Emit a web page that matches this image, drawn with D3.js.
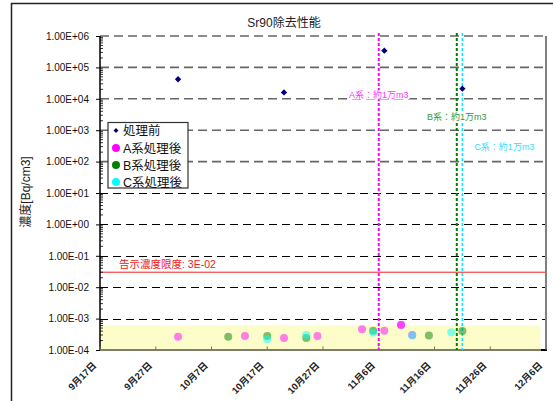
<!DOCTYPE html>
<html><head><meta charset="utf-8">
<script src="https://cdn.jsdelivr.net/npm/d3@7"></script>
<style>body{margin:0;background:#fff}svg{display:block}text{font-family:"Liberation Sans","Noto Sans CJK JP",sans-serif}</style>
</head><body>
<script>
// ---------- data ----------
const title = "Sr90除去性能";
const yTitle = "濃度[Bq/cm3]";
const xDomain = ["2011-09-17", "2011-12-06"];
const yDomain = [1e-4, 1e6];
const seriesNames = ["処理前", "A系処理後", "B系処理後", "C系処理後"];
const seriesColors = ["#000080", "#ff00ff", "#008000", "#00ffff"];

const beforeDates  = ["2011-10-01", "2011-10-20", "2011-11-07", "2011-11-21"];
const beforeValues = [4.2e4, 1.6e4, 3.4e5, 2.1e4];

const aDates  = ["2011-10-01", "2011-10-13", "2011-10-20", "2011-10-26", "2011-11-03", "2011-11-07", "2011-11-10", "2011-11-10", "2011-11-12"];
const aValues = [2.65e-4, 2.8e-4, 2.4e-4, 2.8e-4, 4.6e-4, 4.1e-4, 6.4e-4, 6.3e-4, 3.0e-4];

const bDates  = ["2011-10-10", "2011-10-17", "2011-10-24", "2011-11-05", "2011-11-15", "2011-11-21"];
const bValues = [2.65e-4, 2.8e-4, 2.4e-4, 4.1e-4, 2.9e-4, 4.0e-4];

const cDates  = ["2011-10-17", "2011-10-24", "2011-11-05", "2011-11-12", "2011-11-19"];
const cValues = [2.2e-4, 3.0e-4, 3.6e-4, 2.9e-4, 3.7e-4];

const limitValue = 3e-2;
const limitLabel = "告示濃度限度: 3E-02";
const bandValues = [1e-4, 6e-4];
const bandDates = ["2011-09-17", "2011-12-05"];

const vlineDates  = ["2011-11-06", "2011-11-20", "2011-11-21"];
const vlineLabels = ["A系：約1万m3", "B系：約1万m3", "C系：約1万m3"];
const vlineColors = ["#ff00ff", "#008000", "#00e8ff"];
const vlineTextColors = ["#ff33ff", "#339933", "#33ddff"];

const xTickStep = 10; // days

// ---------- drawing ----------
const W = 553, H = 401;
const parse = d3.timeParse("%Y-%m-%d");
const svg = d3.select("body").append("svg").attr("width", W).attr("height", H);

const x = d3.scaleTime().domain(xDomain.map(parse)).range([100, 546]);
const y = d3.scaleLog().domain(yDomain).range([350, 36]);

// outer frame
svg.append("rect").attr("x", 11.5).attr("y", 3.5).attr("width", 560).attr("height", 420)
  .attr("fill", "none").attr("stroke", "#222").attr("stroke-width", 1.5);

// title
svg.append("text").attr("x", 284).attr("y", 27).attr("text-anchor", "middle")
  .attr("font-size", 12).attr("fill", "#222").text(title);

// yellow band
svg.append("rect")
  .attr("x", x(parse(bandDates[0]))).attr("y", y(bandValues[1]))
  .attr("width", x(parse(bandDates[1])) - x(parse(bandDates[0])))
  .attr("height", y(bandValues[0]) - y(bandValues[1]))
  .attr("fill", "#fdfdc9");

// gridlines
const decades = d3.range(-3, 7).map(e => Math.pow(10, e));
svg.append("g").selectAll("line").data(decades).join("line")
  .attr("x1", 100).attr("x2", 546)
  .attr("y1", d => d >= 100 ? y(d) : Math.round(y(d)) + 0.5)
  .attr("y2", d => d >= 100 ? y(d) : Math.round(y(d)) + 0.5)
  .attr("stroke", d => d >= 100 ? "#666" : "#000")
  .attr("stroke-width", d => d >= 100 ? 1.6 : 1)
  .attr("stroke-dasharray", d => d >= 100 ? "9,5" : "8,5");

// limit line
svg.append("line").attr("x1", 100).attr("x2", 546).attr("y1", y(limitValue)).attr("y2", y(limitValue))
  .attr("stroke", "#ee2020").attr("stroke-width", 1);
svg.append("text").attr("x", 119).attr("y", y(limitValue) - 4).attr("font-size", 10.5)
  .attr("fill", "#ee2020").attr("font-family", "Noto Sans CJK JP").text(limitLabel);

// plot border right
svg.append("line").attr("x1", 546).attr("x2", 546).attr("y1", 36).attr("y2", 351)
  .attr("stroke", "#808080").attr("stroke-width", 2);

// y axis
const fmtE = v => {
  const e = Math.round(Math.log10(v));
  return "1.00E" + (e < 0 ? "-" : "+") + String(Math.abs(e)).padStart(2, "0");
};
const yAxis = d3.axisLeft(y).tickValues(d3.range(-4, 7).map(e => Math.pow(10, e)))
  .tickFormat(fmtE).tickSize(4).tickPadding(7);
const ga = svg.append("g").attr("transform", "translate(100,0)").call(yAxis);
ga.select(".domain").attr("stroke", "#000").attr("stroke-width", 1.5).attr("d", "M0,36V350");
ga.selectAll("text").attr("font-size", 10).attr("fill", "#111");
// minor ticks
const minors = [];
for (let e = -4; e < 6; e++) for (let m = 2; m <= 9; m++) minors.push(m * Math.pow(10, e));
svg.append("g").selectAll("line").data(minors).join("line")
  .attr("x1", 100).attr("x2", 103)
  .attr("y1", d => y(d)).attr("y2", d => y(d))
  .attr("stroke", "#000").attr("stroke-width", 0.8);

// y title
svg.append("text").attr("transform", "translate(30,192) rotate(-90)")
  .attr("text-anchor", "middle").attr("font-size", 12).attr("fill", "#222")
  .attr("font-family", "Noto Sans CJK JP").text(yTitle);

// x axis
const xTicks = d3.range(0, 81, xTickStep).map(d => d3.timeDay.offset(parse(xDomain[0]), d));
svg.append("line").attr("x1", 100).attr("x2", 546).attr("y1", 350).attr("y2", 350)
  .attr("stroke", "#55553a").attr("stroke-width", 1.5);
svg.append("line").attr("x1", 541).attr("x2", 547).attr("y1", 350).attr("y2", 350)
  .attr("stroke", "#000").attr("stroke-width", 2);
svg.append("g").selectAll("line").data(xTicks).join("line")
  .attr("x1", d => x(d)).attr("x2", d => x(d)).attr("y1", 350).attr("y2", 346.5)
  .attr("stroke", "#777755").attr("stroke-width", 1);
const fmtX = d => (d.getMonth() + 1) + "月" + d.getDate() + "日";
svg.append("g").selectAll("text").data(xTicks).join("text")
  .attr("transform", d => `translate(${x(d) - 3},366) rotate(-45)`)
  .attr("text-anchor", "end").attr("font-size", 9.5).attr("fill", "#222")
  .attr("font-family", "Noto Sans CJK JP").attr("font-weight", "bold")
  .text(fmtX);

// vertical lines + labels
const vlineW = [2, 2, 1.6];
const labelPos = [[0, 95, "middle"], [0, 117, "middle"], [12, 147, "start"]];
vlineDates.forEach((d, i) => {
  const xx = x(parse(d));
  svg.append("line").attr("x1", xx).attr("x2", xx).attr("y1", 33).attr("y2", 350)
    .attr("stroke", vlineColors[i]).attr("stroke-width", vlineW[i]).attr("stroke-dasharray", "3,2");
});
vlineDates.forEach((d, i) => {
  const xx = x(parse(d));
  const g = svg.append("g");
  const t = g.append("text").attr("x", xx + labelPos[i][0]).attr("y", labelPos[i][1])
    .attr("dy", "0.35em").attr("text-anchor", labelPos[i][2])
    .attr("font-size", 9).attr("font-family", "Noto Sans CJK JP")
    .attr("fill", vlineTextColors[i]).text(vlineLabels[i]);
  const bb = t.node().getBBox();
  g.insert("rect", "text").attr("x", bb.x - 1).attr("y", bb.y + 1).attr("width", bb.width + 2)
    .attr("height", bb.height - 2).attr("fill", "#fff");
});

// after-treatment points
const afterSeries = [[aDates, aValues, 1], [bDates, bValues, 2], [cDates, cValues, 3]];
afterSeries.forEach(([ds, vs, ci]) => {
  svg.append("g").selectAll("circle").data(ds.map((d, i) => ({ d: parse(d), v: vs[i] }))).join("circle")
    .attr("cx", p => x(p.d)).attr("cy", p => y(p.v)).attr("r", 4)
    .attr("fill", seriesColors[ci]).attr("fill-opacity", 0.5);
});

// before points
const diamond = d3.symbol().type(d3.symbolSquare).size(20);
svg.append("g").selectAll("path").data(beforeDates.map((d, i) => ({ d: parse(d), v: beforeValues[i] }))).join("path")
  .attr("d", diamond)
  .attr("transform", p => `translate(${x(p.d)},${y(p.v)}) rotate(45)`)
  .attr("fill", seriesColors[0]);

// legend
const lg = svg.append("g");
lg.append("rect").attr("x", 108).attr("y", 122.5).attr("width", 80).attr("height", 65.5)
  .attr("fill", "#fff").attr("stroke", "#333").attr("stroke-width", 1.2);
const ly = [130.5, 148, 165, 182];
seriesNames.forEach((n, i) => {
  if (i === 0) {
    lg.append("path").attr("d", d3.symbol().type(d3.symbolSquare).size(12))
      .attr("transform", `translate(116,${ly[i]}) rotate(45)`).attr("fill", seriesColors[0]);
  } else {
    lg.append("circle").attr("cx", 116).attr("cy", ly[i]).attr("r", 4).attr("fill", seriesColors[i]);
  }
  lg.append("text").attr("x", 123).attr("y", ly[i]).attr("dy", "0.36em")
    .attr("font-size", 12.5).attr("font-family", "Noto Sans CJK JP").attr("fill", "#111").text(n);
});
</script>
</body></html>
